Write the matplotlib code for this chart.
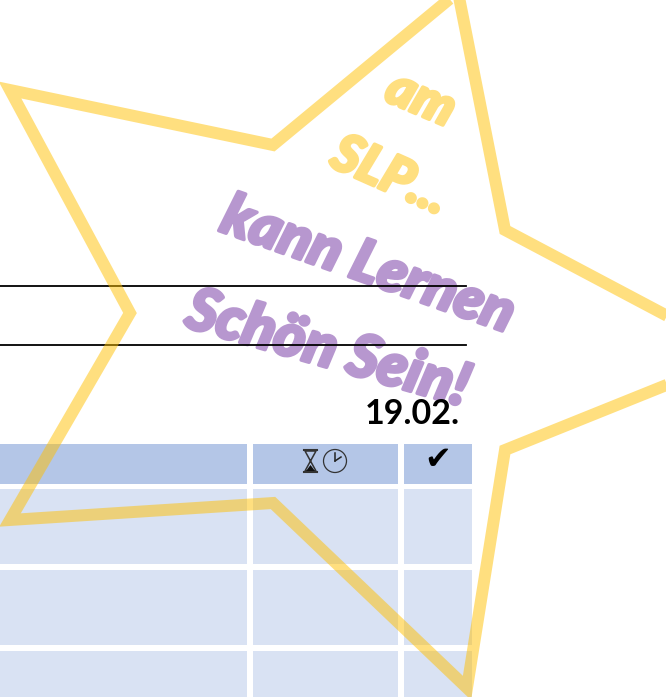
"""Worksheet header with a big star, slogan and task table"""
import matplotlib
matplotlib.use("Agg")
import matplotlib.pyplot as plt
from matplotlib import patheffects
from matplotlib.patches import Circle, Polygon, Rectangle

WIDTH = 666
HEIGHT = 697

STAR_X = [741, 505, 467, 273, 10, 130, 10, 273, 458, 505]
STAR_Y = [355, 450, 688, 503, 520, 313, 90, 145, -8, 230]

COL_LEFT = [-5, 253, 404]
COL_RIGHT = [247, 398, 472]
ROW_TOP = [444, 489, 570, 651]
ROW_BOTTOM = [484, 564, 645, 702]

RULE_Y = [286, 345]
DATE_LABEL = "19.02."

SLOGAN_TEXT = ["am", "SLP...", "kann Lernen", "Schön Sein!"]
SLOGAN_X = [421, 390, 368, 328]
SLOGAN_Y = [99, 176, 266, 349]
SLOGAN_ANGLE = [-23, -24, -19.5, -16]
SLOGAN_SIZE = [38, 38, 42, 43]
SLOGAN_COLOR = ["#FFDF80", "#FFDF80", "#B797CF", "#B797CF"]

HEADER_COLOR = "#B4C6E7"
ROW_COLOR = "#D9E2F3"


def draw_table(axs):
    """Header row plus the lighter task rows"""
    for r_idx, (top, bottom) in enumerate(zip(ROW_TOP, ROW_BOTTOM)):
        color = HEADER_COLOR if r_idx == 0 else ROW_COLOR
        for left, right in zip(COL_LEFT, COL_RIGHT):
            axs.add_patch(Rectangle((left, top), right - left, bottom - top,
                                    facecolor=color, edgecolor="none", zorder=1))


def draw_icons(axs):
    """Hourglass, clock and check mark in the header, no font here has the hourglass"""
    axs.add_patch(Polygon([(305, 451), (316, 451), (305, 471), (316, 471)], closed=True,
                          facecolor="none", edgecolor="#333333", linewidth=1.1, zorder=2))
    axs.plot([304, 317], [450, 450], color="#333333", linewidth=1.5, zorder=2)
    axs.plot([304, 317], [472, 472], color="#333333", linewidth=1.5, zorder=2)
    axs.add_patch(Polygon([(306, 471), (315, 471), (310.5, 465)], closed=True,
                          facecolor="#111111", edgecolor="none", zorder=2))
    axs.add_patch(Circle((335, 461), 11.5, facecolor="none", edgecolor="#333333",
                         linewidth=0.9, zorder=2))
    axs.plot([335, 335], [461, 453], color="#222222", linewidth=1.1, zorder=2)
    axs.plot([335, 341], [461, 457], color="#222222", linewidth=1.1, zorder=2)
    axs.text(438, 461, "\u2714", fontsize=23, ha="center", va="center",
             color="black", family="DejaVu Sans", zorder=2)


def draw_star(axs):
    """Half transparent star outline, partly off the page"""
    axs.add_patch(Polygon(list(zip(STAR_X, STAR_Y)), closed=True, facecolor="none",
                          edgecolor="#FFC000", alpha=0.5, linewidth=8.6,
                          joinstyle="miter", zorder=4))


def draw_slogan(axs):
    """Rotated slogan lines, thickened to get close to the brush font"""
    for txt, x_pos, y_pos, angle, size, color in zip(
            SLOGAN_TEXT, SLOGAN_X, SLOGAN_Y, SLOGAN_ANGLE, SLOGAN_SIZE, SLOGAN_COLOR):
        axs.text(x_pos, y_pos, txt, fontsize=size, rotation=angle, rotation_mode="anchor",
                 ha="center", va="center", color=color, style="italic",
                 fontweight="black", family="Lato", zorder=1.5,
                 path_effects=[patheffects.withStroke(linewidth=2.5, foreground=color)])


def main():
    fig = plt.figure(figsize=(WIDTH / 100, HEIGHT / 100), dpi=100)
    axs = fig.add_axes([0, 0, 1, 1])
    axs.set_xlim(0, WIDTH)
    axs.set_ylim(HEIGHT, 0)
    axs.axis("off")

    draw_table(axs)
    draw_icons(axs)
    for y_pos in RULE_Y:
        axs.plot([0, 466], [y_pos, y_pos], color="black", linewidth=1.3, zorder=2)
    axs.text(460, 414, DATE_LABEL, fontsize=24.5, fontweight="bold", ha="right", va="center",
             family="Lato", color="black", zorder=2)
    draw_star(axs)
    draw_slogan(axs)

    fig.savefig("out.png", dpi=100)


if __name__ == "__main__":
    main()
